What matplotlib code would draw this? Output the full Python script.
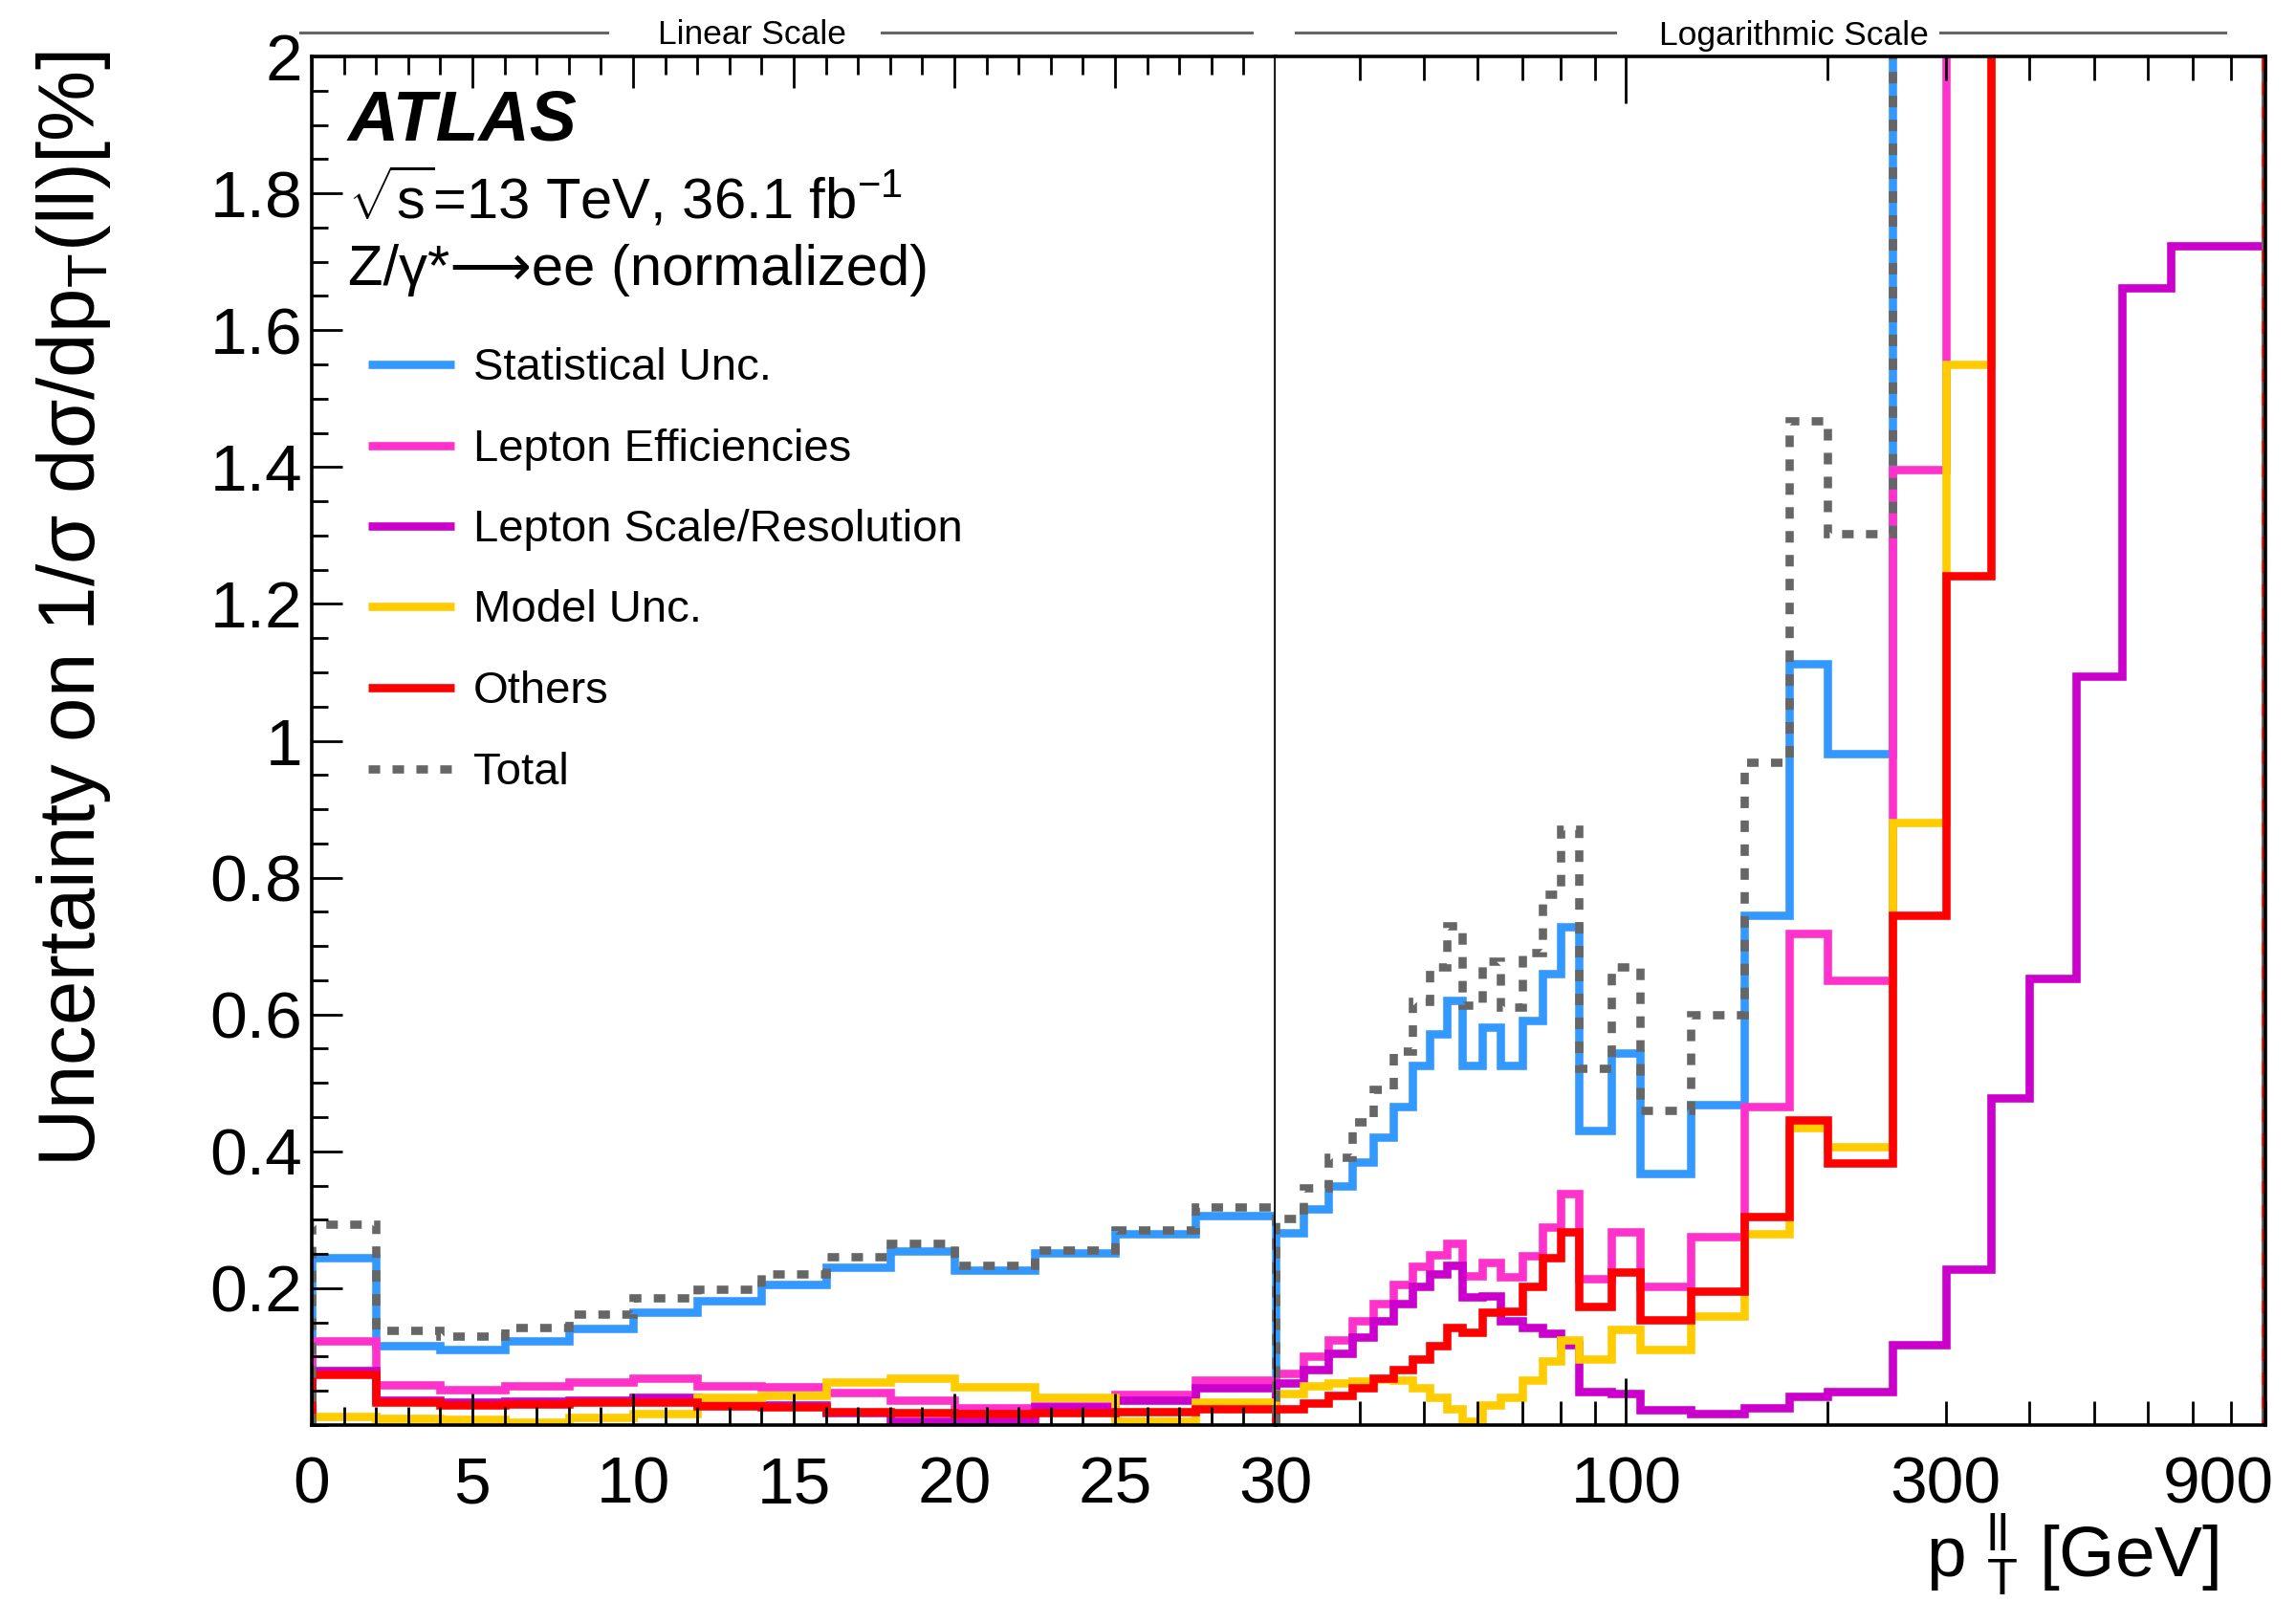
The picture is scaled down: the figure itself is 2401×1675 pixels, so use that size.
"""
ATLAS Z->ee pT(ll) normalized cross-section uncertainty breakdown.
Split x axis: linear 0-30 GeV, logarithmic 30-900 GeV.
"""

import matplotlib
matplotlib.use("Agg")
import matplotlib.pyplot as plt
import matplotlib.transforms as mtransforms
from matplotlib.lines import Line2D

# ---- data (uncertainty in %) ----
lin_edges = [0, 2, 4, 6, 8, 10, 12, 14, 16, 18, 20, 22.5, 25, 27.5, 30]
log_edges = [30, 33, 36, 39, 42, 45, 48, 51, 54, 57, 61, 65, 70, 75, 80, 85,
             95, 105, 125, 150, 175, 200, 250, 300, 350, 400, 470, 550, 650, 900]

stat_lin = [0.245, 0.116, 0.110, 0.123, 0.141, 0.165, 0.182, 0.206, 0.231,
            0.254, 0.226, 0.251, 0.279, 0.306]
stat_log = [0.281, 0.316, 0.349, 0.385, 0.420, 0.466, 0.525, 0.571, 0.620,
            0.525, 0.581, 0.525, 0.591, 0.660, 0.728, 0.431, 0.543, 0.367,
            0.468, 0.745, 1.113, 0.981, 2.3, 2.8, 3.4, 4.1, 5.0, 6.2, 8.0]

lepeff_lin = [0.123, 0.059, 0.052, 0.057, 0.063, 0.069, 0.058, 0.056, 0.048,
              0.036, 0.025, 0.028, 0.045, 0.065]
lepeff_log = [0.075, 0.101, 0.125, 0.152, 0.178, 0.206, 0.232, 0.249, 0.265,
              0.218, 0.238, 0.216, 0.248, 0.289, 0.338, 0.214, 0.283, 0.203,
              0.275, 0.466, 0.718, 0.650, 1.396, 2.2, 2.7, 3.2, 3.9, 4.6, 5.5]

lepscale_lin = [0.079, 0.036, 0.033, 0.035, 0.037, 0.040, 0.034, 0.030, 0.018,
                0.006, 0.006, 0.026, 0.037, 0.054]
lepscale_log = [0.062, 0.081, 0.105, 0.128, 0.152, 0.177, 0.202, 0.221, 0.234,
                0.187, 0.189, 0.152, 0.143, 0.134, 0.117, 0.049, 0.046, 0.022,
                0.017, 0.025, 0.042, 0.049, 0.117, 0.228, 0.478, 0.653, 1.094,
                1.662, 1.723]

model_lin = [0.013, 0.010, 0.009, 0.0045, 0.011, 0.017, 0.041, 0.044, 0.063,
             0.069, 0.056, 0.041, 0.005, 0.033]
model_log = [0.046, 0.058, 0.061, 0.064, 0.067, 0.066, 0.055, 0.040, 0.024,
             0.005, 0.030, 0.040, 0.066, 0.093, 0.125, 0.097, 0.140, 0.110,
             0.159, 0.279, 0.434, 0.407, 0.880, 1.550, 2.3, 2.8, 3.4, 4.0, 4.8]

others_lin = [0.074, 0.034, 0.030, 0.031, 0.033, 0.034, 0.028, 0.026, 0.020,
              0.018, 0.017, 0.018, 0.020, 0.024]
others_log = [0.024, 0.032, 0.043, 0.055, 0.068, 0.081, 0.097, 0.116, 0.143,
              0.136, 0.165, 0.167, 0.202, 0.244, 0.283, 0.173, 0.223, 0.154,
              0.196, 0.305, 0.446, 0.383, 0.745, 1.241, 2.3, 2.9, 3.5, 4.2, 5.0]

total_lin = [0.294, 0.139, 0.130, 0.143, 0.162, 0.186, 0.199, 0.221, 0.246,
             0.266, 0.234, 0.256, 0.285, 0.319]
total_log = [0.302, 0.347, 0.391, 0.443, 0.491, 0.547, 0.619, 0.669, 0.730,
             0.613, 0.678, 0.611, 0.691, 0.775, 0.871, 0.522, 0.669, 0.460,
             0.600, 0.968, 1.468, 1.303, 2.6, 3.2, 3.9, 4.6, 5.6, 6.8, 8.6]

y_ticks = [0.2, 0.4, 0.6, 0.8, 1.0, 1.2, 1.4, 1.6, 1.8, 2.0]
y_ticklabels = ["0.2", "0.4", "0.6", "0.8", "1", "1.2", "1.4", "1.6", "1.8", "2"]
lin_ticks = [0, 5, 10, 15, 20, 25, 30]
log_minor = [40, 50, 60, 70, 80, 90, 200, 300, 400, 500, 600, 700, 800, 900]
log_minor_labels = ["", "", "", "", "", "", "", "300", "", "", "", "", "", "900"]

series = [
    ("Statistical Unc.", stat_lin, stat_log, "#3399ff", "-"),
    ("Lepton Efficiencies", lepeff_lin, lepeff_log, "#ff33cc", "-"),
    ("Lepton Scale/Resolution", lepscale_lin, lepscale_log, "#cc00cc", "-"),
    ("Model Unc.", model_lin, model_log, "#ffcc00", "-"),
    ("Others", others_lin, others_log, "#ff0000", "-"),
    ("Total", total_lin, total_log, "#666666", (0, (1.4, 1.5))),
]

# ---- style ----
plt.rcParams["font.family"] = ["Liberation Sans", "DejaVu Sans"]
plt.rcParams["mathtext.fontset"] = "custom"
plt.rcParams["mathtext.rm"] = "Liberation Sans"
plt.rcParams["mathtext.it"] = "Liberation Sans:italic"
plt.rcParams["mathtext.bf"] = "Liberation Sans:bold"
plt.rcParams["mathtext.default"] = "regular"

W, H = 2401, 1675
LW = 6.2


def fx(px):
    return px / W


def fy(py):
    return 1 - py / H


fig = plt.figure(figsize=(W / 100, H / 100), dpi=100)
ax1 = fig.add_axes([fx(326), fy(1490), (1334 - 326) / W, (1490 - 59) / H])
ax2 = fig.add_axes([fx(1334), fy(1490), (2369 - 1334) / W, (1490 - 59) / H])

for label, v_lin, v_log, color, ls in series:
    ax1.stairs(v_lin, lin_edges, baseline=0, color=color, lw=LW, ls=ls)
    ax2.stairs(v_log, log_edges, baseline=0, color=color, lw=LW, ls=ls)

# linear panel
ax1.set_xlim(0, 30)
ax1.set_ylim(0, 2)
ax1.set_xticks(lin_ticks, labels=[str(t) for t in lin_ticks])
ax1.set_xticks(range(31), minor=True)
ax1.set_yticks(y_ticks, labels=y_ticklabels)
ax1.set_yticks([i * 0.05 for i in range(41)], minor=True)
ax1.tick_params(axis="both", which="both", direction="in", width=2,
                labelsize=50)
ax1.tick_params(axis="x", which="both", top=True, pad=23)
ax1.tick_params(axis="x", which="major", length=24)
ax1.tick_params(axis="x", which="minor", length=14)
ax1.tick_params(axis="y", which="major", length=23, pad=7)
ax1.tick_params(axis="y", which="minor", length=12)

# logarithmic panel
ax2.set_xscale("log")
ax2.set_xlim(30, 900)
ax2.set_ylim(0, 2)
ax2.set_xticks([100], labels=["100"])
ax2.set_xticks(log_minor, labels=log_minor_labels, minor=True)
ax2.set_yticks([])
ax2.tick_params(axis="x", which="both", direction="in", width=2, top=True,
                labelsize=50, pad=23)
ax2.tick_params(axis="x", which="major", length=35)
ax2.tick_params(axis="x", which="minor", length=18)
ax2.spines["left"].set_visible(False)

for lbl in ax2.xaxis.get_minorticklabels():
    if lbl.get_text() == "900":
        lbl.set_transform(lbl.get_transform() + mtransforms.ScaledTranslation(
            -0.49, 0, fig.dpi_scale_trans))

for ax in (ax1, ax2):
    for sp in ax.spines.values():
        sp.set_linewidth(2.6)

# axis titles
fig.text(fx(77), fy(54), r"Uncertainty on 1/σ dσ/dp$_{\rm T}$(ll)[%]",
         rotation=90, ha="center", va="top", fontsize=60)
fig.text(fx(2320), fy(1648), r"p $^{\rm ll}_{\rm T}$ [GeV]", ha="right",
         va="baseline", fontsize=54)

# scale headers
grey = "#666666"
for (x0, x1) in [(314, 635), (922, 1309), (1355, 1689), (2029, 2327)]:
    fig.add_artist(Line2D([fx(x0), fx(x1)], [fy(34), fy(34)], color=grey,
                          lw=2.2, transform=fig.transFigure))
fig.text(fx(787), fy(37), "Linear Scale", ha="center", va="center",
         fontsize=25.5)
fig.text(fx(1876), fy(37), "Logarithmic Scale", ha="center", va="center",
         fontsize=25.5)

# ATLAS labels
fig.text(fx(364), fy(147), "ATLAS", fontsize=53, fontweight="bold",
         fontstyle="italic", va="baseline")
fig.text(fx(364), fy(229), r"$\sqrt{s}$=13 TeV, 36.1 fb$^{-1}$",
         fontsize=43, va="baseline")
fig.text(fx(364), fy(298), "Z/γ*⟶ee (normalized)", fontsize=43,
         va="baseline")

# legend (drawn as a key list)
for i, (label, _, _, color, ls) in enumerate(series):
    yc = 381 + i * 84.5
    fig.add_artist(Line2D([fx(385), fx(475)], [fy(yc), fy(yc)], color=color,
                          lw=LW, ls=ls, solid_capstyle="butt",
                          dash_capstyle="butt", transform=fig.transFigure))
    fig.text(fx(495), fy(yc + 16), label, fontsize=34, va="baseline")

fig.savefig("out.png", dpi=100)
